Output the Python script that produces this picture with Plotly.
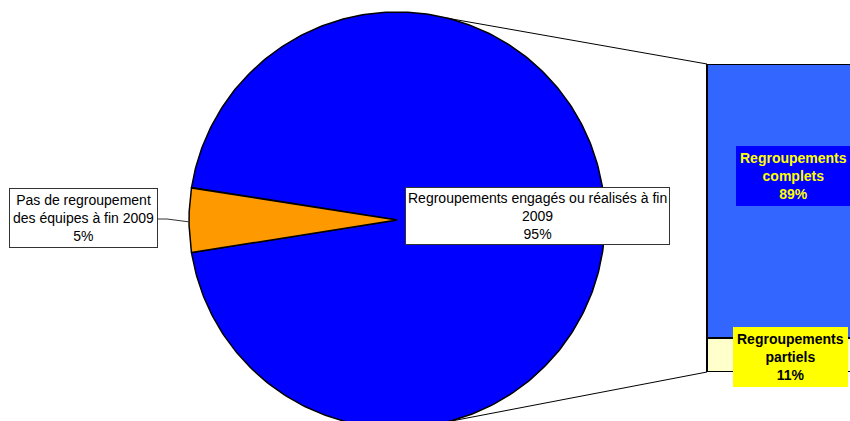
import numpy as np
import plotly.graph_objects as go

# ---- data ----
pie_labels = ["Regroupements engagés ou réalisés à fin 2009", "Pas de regroupement des équipes à fin 2009"]
pie_values = [95, 5]
bar_labels = ["Regroupements partiels", "Regroupements complets"]
bar_values = [11, 89]

# ---- geometry (pixel-like coordinates) ----
W, H = 850, 421
cx, cy, R = 397, 220, 208
pie_colors = ["#0000FF", "#FF9900"]
bar_colors = ["#FFFFCC", "#3366FF"]
FONT = "Liberation Sans, Arial, sans-serif"

fig = go.Figure()

# pie slices: small slice centred on the left side
total = sum(pie_values)
small_span = 360 * pie_values[1] / total
start_small = 180 - small_span / 2
slices = [
    (start_small + small_span, start_small + 360, pie_colors[0]),
    (start_small, start_small + small_span, pie_colors[1]),
]
for a0, a1, col in slices:
    th = np.radians(np.linspace(a0, a1, 400))
    xs = np.concatenate([[cx], cx + R * np.cos(th), [cx]])
    ys = np.concatenate([[cy], cy - R * np.sin(th), [cy]])
    fig.add_trace(go.Scatter(x=xs, y=ys, mode="lines", fill="toself", fillcolor=col,
                             line=dict(color="black", width=1.5), hoverinfo="skip",
                             showlegend=False, xaxis="x", yaxis="y"))

# connector lines from pie to bar
bar_left, bar_top, bar_bot = 707, 64, 372
for ang, (bx, by) in [(76, (bar_left, bar_top)), (-76, (bar_left, bar_bot))]:
    t = np.radians(ang)
    fig.add_trace(go.Scatter(x=[cx + R * np.cos(t), bx], y=[cy - R * np.sin(t), by], mode="lines",
                             line=dict(color="black", width=1), hoverinfo="skip",
                             showlegend=False, xaxis="x", yaxis="y"))

# leader line for small slice label
fig.add_trace(go.Scatter(x=[156, 167, 190], y=[219, 219, 222], mode="lines",
                         line=dict(color="#333333", width=1), hoverinfo="skip",
                         showlegend=False, xaxis="x", yaxis="y"))

# stacked bar
for lab, val, col in zip(bar_labels, bar_values, bar_colors):
    fig.add_trace(go.Bar(x=[1], y=[val], width=2, name=lab, marker=dict(color=col, line=dict(color="black", width=1.5)),
                         xaxis="x2", yaxis="y2", showlegend=False, hoverinfo="skip"))

ann_common = dict(xref="x", yref="y", showarrow=False, align="center", borderwidth=1)
fig.update_layout(
    width=W, height=H, margin=dict(l=0, r=0, t=0, b=0),
    paper_bgcolor="white", plot_bgcolor="rgba(0,0,0,0)",
    barmode="stack", bargap=0, hovermode=False,
    xaxis=dict(range=[0, W], visible=False, domain=[0, 1], fixedrange=True),
    yaxis=dict(range=[H, 0], visible=False, domain=[0, 1], fixedrange=True),
    xaxis2=dict(range=[-0.05, 1], visible=False, domain=[700 / W, 1], anchor="y2", fixedrange=True),
    yaxis2=dict(range=[0, 100], visible=False, domain=[1 - bar_bot / H, 1 - bar_top / H], anchor="x2", fixedrange=True),
    annotations=[
        dict(x=537, y=216, text="Regroupements engagés ou réalisés à fin<br>2009<br>%d%%" % pie_values[0],
             font=dict(family=FONT, size=14, color="black"), bgcolor="white", bordercolor="#333333",
             borderpad=2, **ann_common),
        dict(x=83, y=218, text="Pas de regroupement<br>des équipes à fin 2009<br>%d%%" % pie_values[1],
             font=dict(family=FONT, size=14, color="black"), bgcolor="white", bordercolor="#333333",
             borderpad=3, **ann_common),
        dict(x=793, y=176, text="<b>Regroupements<br>complets<br>%d%%</b>" % bar_values[1],
             font=dict(family=FONT, size=14, color="#FFFF00"), bgcolor="#0000FF", bordercolor="#0000FF",
             borderpad=3, **ann_common),
        dict(x=790, y=357, text="<b>Regroupements<br>partiels<br>%d%%</b>" % bar_values[0],
             font=dict(family=FONT, size=14, color="black"), bgcolor="#FFFF00", bordercolor="#FFFF00",
             borderpad=3, **ann_common),
    ],
)

fig.write_html("out.html", config={"displayModeBar": False, "staticPlot": True},
               post_script="document.body.style.margin='0';document.body.style.overflow='hidden';")
